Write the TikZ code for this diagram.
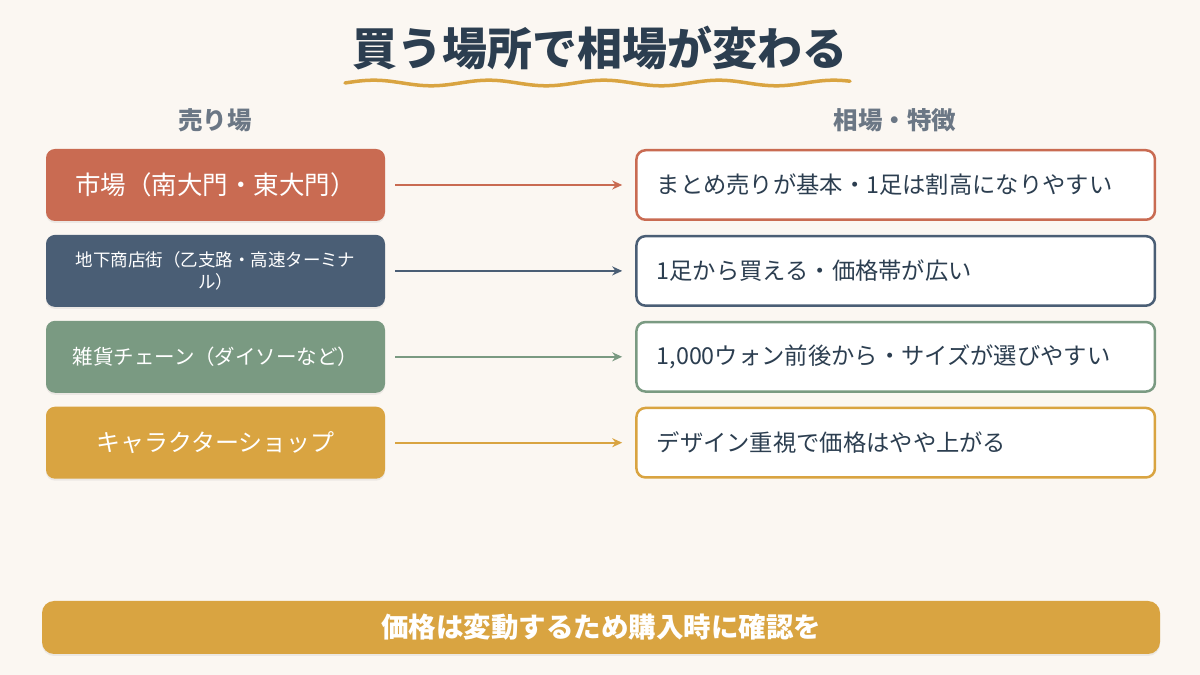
\documentclass[tikz,border=0pt]{standalone}
\usepackage{fontspec}
\setmainfont{Noto Sans CJK JP}
\usepackage{xcolor}
\usetikzlibrary{arrows.meta, positioning, shadows}

\definecolor{bgcream}{HTML}{FBF7F2}
\definecolor{titlenavy}{HTML}{2C3E50}
\definecolor{headgray}{HTML}{6B7785}
\definecolor{terra}{HTML}{C96B52}
\definecolor{slate}{HTML}{4A5E75}
\definecolor{sage}{HTML}{7A9A82}
\definecolor{mustard}{HTML}{D9A441}

\begin{document}
\begin{tikzpicture}[
    x=1pt, y=1pt,
    >={Stealth[length=10pt, width=9pt]},
    every node/.style={align=center}
]

\tikzset{
    shopbox/.style={rectangle, rounded corners=9pt, fill=#1, minimum width=339pt, minimum height=72pt, text=white, inner sep=4pt, drop shadow={opacity=0.12, shadow xshift=0pt, shadow yshift=-2pt}},
    infobox/.style={rectangle, rounded corners=9pt, draw=#1, line width=2.5pt, fill=white, minimum width=518.5pt, minimum height=69.5pt, text width=478pt, align=left, text=titlenavy, font=\fontsize{23.3}{27}\selectfont},
    colhead/.style={text=headgray, font=\bfseries\fontsize{24.5}{28}\selectfont},
    shoparrow/.style={->, draw=#1, line width=2pt, shorten <=10pt, shorten >=13pt},
    notebar/.style={rectangle, rounded corners=12pt, fill=mustard, minimum width=1118pt, minimum height=53pt, text=white, font=\bfseries\fontsize{27.5}{30}\selectfont, drop shadow={opacity=0.12, shadow xshift=0pt, shadow yshift=-2pt}}
}

\fill [bgcream] (0,0) rectangle (1200,675);
\useasboundingbox (0,0) rectangle (1200,675);

\node [text=titlenavy, font=\bfseries\fontsize{45}{50}\selectfont] (title) at (600,627) {買う場所で相場が変わる};
\draw [mustard, line width=3.5pt, line cap=round] plot [domain=345:850, samples=150, smooth] (\x, {592 + 2.8*sin(3.13*(\x-345))});

\node [colhead] (shophead) at (215,555) {売り場};
\node [colhead] (infohead) at (895,555) {相場・特徴};

\node [shopbox=terra, font=\fontsize{25.5}{28}\selectfont] (market) at (215.5,490) {市場（南大門・東大門）};
\node [shopbox=slate, font=\fontsize{17.5}{22}\selectfont] (underground) [below=13.5pt of market] {地下商店街（乙支路・高速ターミナ\\ル）};
\node [shopbox=sage, font=\fontsize{20.5}{24}\selectfont] (chain) [below=13.5pt of underground] {雑貨チェーン（ダイソーなど）};
\node [shopbox=mustard, font=\fontsize{24}{28}\selectfont] (character) [below=13.5pt of chain] {キャラクターショップ};

\node [infobox=terra] (marketinfo) [right=250pt of market] {まとめ売りが基本・1足は割高になりやすい};
\node [infobox=slate] (undergroundinfo) [right=250pt of underground] {1足から買える・価格帯が広い};
\node [infobox=sage] (chaininfo) [right=250pt of chain] {1,000ウォン前後から・サイズが選びやすい};
\node [infobox=mustard] (characterinfo) [right=250pt of character] {デザイン重視で価格はやや上がる};

\draw [shoparrow=terra] (market.east) -- (marketinfo.west);
\draw [shoparrow=slate] (underground.east) -- (undergroundinfo.west);
\draw [shoparrow=sage] (chain.east) -- (chaininfo.west);
\draw [shoparrow=mustard] (character.east) -- (characterinfo.west);

\node [notebar] (note) at (601,47.5) {価格は変動するため購入時に確認を};

\end{tikzpicture}
\end{document}
